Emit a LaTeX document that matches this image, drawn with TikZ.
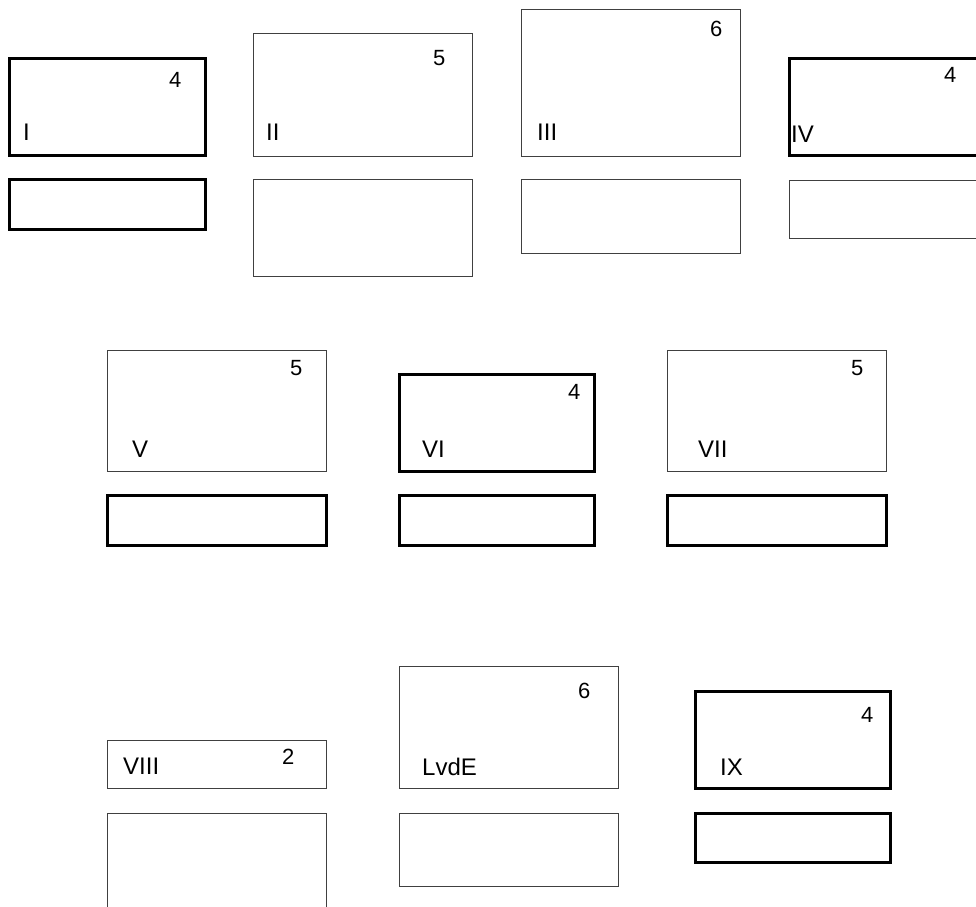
\documentclass[tikz,border=0pt]{standalone}
\usepackage{fontspec}
\setmainfont{Liberation Sans}
\begin{document}
\begin{tikzpicture}[x=1pt,y=-1pt,
  thinbox/.style={draw=black!75,line width=1pt,rectangle,inner sep=0pt},
  thickbox/.style={draw=black,line width=3pt,rectangle,inner sep=0pt},
  lab/.style={anchor=base west,inner sep=0pt,font=\fontsize{24}{28}\selectfont},
  num/.style={anchor=base west,inner sep=0pt,font=\fontsize{22}{26}\selectfont}]
\useasboundingbox (0,0) rectangle (976,906);
\clip (0,0) rectangle (976,906);
\newcommand\bx[6]{\node[#2,minimum width={(#5-#3)*1pt},minimum height={(#6-#4)*1pt}] (#1) at ({(#3+#5)/2},{(#4+#6)/2}) {};}
% top row
\bx{b1}{thickbox}{9}{58}{205}{155}
\bx{b1l}{thickbox}{9}{179}{205}{229}
\bx{b2}{thinbox}{253}{33}{472}{156}
\bx{b2l}{thinbox}{253}{179}{472}{276}
\bx{b3}{thinbox}{521}{9}{740}{156}
\bx{b3l}{thinbox}{521}{179}{740}{253}
\bx{b4}{thickbox}{789}{58}{1000}{155}
\bx{b4l}{thinbox}{789}{180}{1000}{238}
% middle row
\bx{b5}{thinbox}{107}{350}{326}{471}
\bx{b5l}{thickbox}{107}{495}{326}{545}
\bx{b6}{thickbox}{399}{374}{594}{471}
\bx{b6l}{thickbox}{399}{495}{594}{545}
\bx{b7}{thinbox}{667}{350}{886}{471}
\bx{b7l}{thickbox}{667}{495}{886}{545}
% bottom row
\bx{b8}{thinbox}{107}{740}{326}{788}
\bx{b8l}{thinbox}{107}{813}{326}{930}
\bx{b9}{thinbox}{399}{666}{618}{788}
\bx{b9l}{thinbox}{399}{813}{618}{886}
\bx{b10}{thickbox}{695}{691}{890}{788}
\bx{b10l}{thickbox}{695}{813}{890}{862}
% labels
\node[lab] (l1) at (23,140) {I};
\node[lab] (l2) at (266,140) {II};
\node[lab] (l3) at (537,140) {III};
\node[lab] (l4) at (791,142) {IV};
\node[lab] (l5) at (132,457) {V};
\node[lab] (l6) at (422,457) {VI};
\node[lab] (l7) at (698,457) {VII};
\node[lab] (l8) at (123,774) {VIII};
\node[lab] (l9) at (422,775) {LvdE};
\node[lab] (l10) at (720,775) {IX};
% numbers
\node[num] (n1) at (169,87) {4};
\node[num] (n2) at (433,65) {5};
\node[num] (n3) at (710,36) {6};
\node[num] (n4) at (944,82) {4};
\node[num] (n5) at (290,375) {5};
\node[num] (n6) at (568,399) {4};
\node[num] (n7) at (851,375) {5};
\node[num] (n8) at (282,764) {2};
\node[num] (n9) at (578,698) {6};
\node[num] (n10) at (861,722) {4};
\end{tikzpicture}
\end{document}
